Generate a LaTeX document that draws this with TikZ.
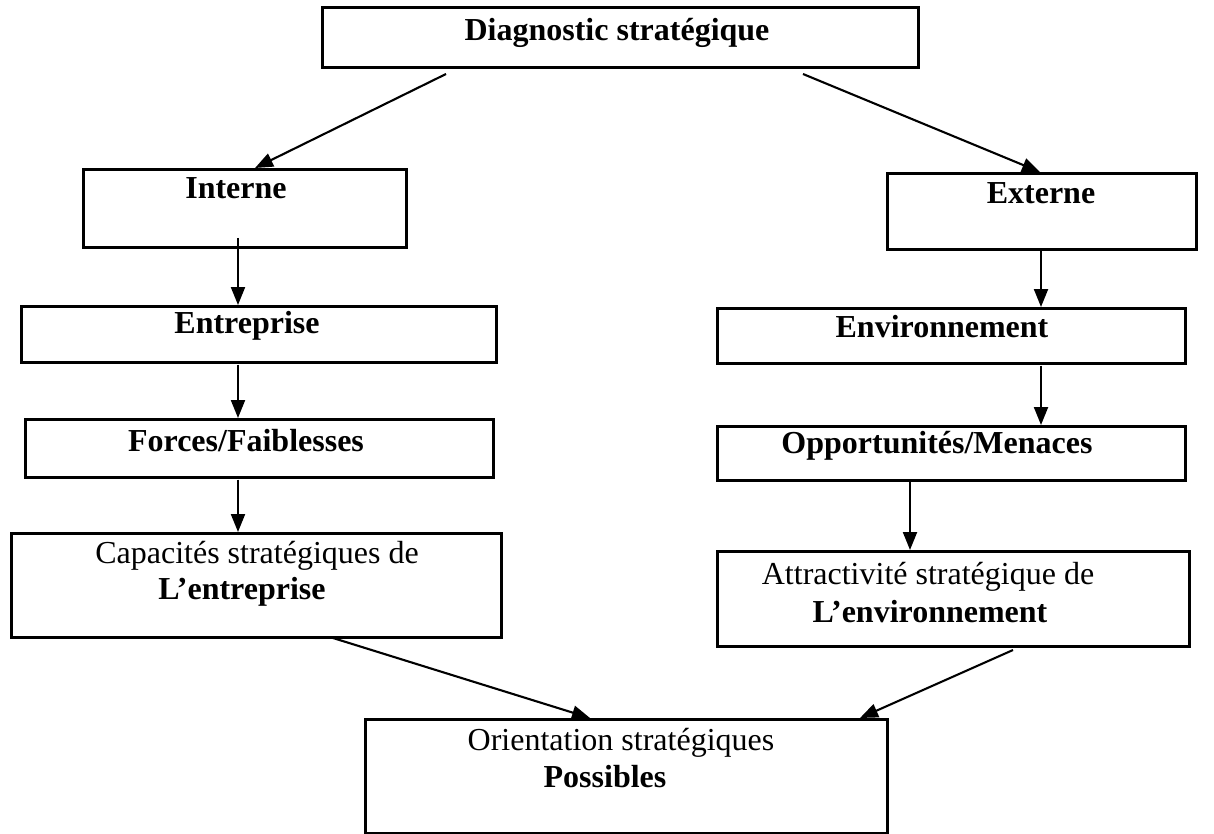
\documentclass[tikz,border=0pt]{standalone}
\usepackage{fontspec}
\setmainfont{Liberation Serif}
\usetikzlibrary{arrows.meta}
\begin{document}
\begin{tikzpicture}[x=1pt,y=-1pt,
  box/.style={draw, line width=2.6pt, rectangle, inner sep=0pt, anchor=north west},
  lbl/.style={inner sep=0pt, anchor=center, font=\fontsize{32}{37}\selectfont},
  blbl/.style={inner sep=0pt, anchor=center, font=\fontsize{32}{37}\selectfont\bfseries},
  arr/.style={line width=2.1pt, -{Triangle[length=18pt,width=14pt]}}]
\useasboundingbox (0,0) rectangle (1214,834);
\fill[white] (0,0) rectangle (1214,834);

% boxes
\node[box, minimum width=596pt, minimum height=60pt]  (diag)  at (321,6)   {};
\node[box, minimum width=323pt, minimum height=78pt]  (int)   at (82,168)  {};
\node[box, minimum width=309pt, minimum height=76pt]  (ext)   at (886,172) {};
\node[box, minimum width=475pt, minimum height=56pt]  (entr)  at (20,305)  {};
\node[box, minimum width=468pt, minimum height=55pt]  (envi)  at (716,307) {};
\node[box, minimum width=468pt, minimum height=58pt]  (forc)  at (24,418)  {};
\node[box, minimum width=468pt, minimum height=54pt]  (oppo)  at (716,425) {};
\node[box, minimum width=490pt, minimum height=104pt] (capa)  at (10,532)  {};
\node[box, minimum width=472pt, minimum height=95pt]  (attr)  at (716,550) {};
\node[box, minimum width=522pt, minimum height=114pt] (orie)  at (364,718) {};

% labels
\node[blbl] (tdiag) at (617,33)  {Diagnostic stratégique};
\node[blbl] (tint)  at (236,188) {Interne};
\node[blbl] (text)  at (1041,193) {Externe};
\node[blbl] (tentr) at (247,326) {Entreprise};
\node[blbl] (tenvi) at (942,327) {Environnement};
\node[blbl] (tforc) at (246,441) {Forces/Faiblesses};
\node[blbl] (toppo) at (937,446) {Opportunités/Menaces};
\node[lbl]  (tcapa) at (257,556) {Capacités stratégiques de};
\node[blbl] (tcapb) at (242,592) {L’entreprise};
\node[lbl]  (tattr) at (928,577) {Attractivité stratégique de};
\node[blbl] (tatts) at (930,612) {L’environnement};
\node[lbl]  (torie) at (621,743) {Orientation stratégiques};
\node[blbl] (tposs) at (605,777) {Possibles};

% connector end points
\coordinate (d1) at (446,74);
\coordinate (d2) at (803,74);
\coordinate (i1) at (255,168);
\coordinate (e1) at (1040,172);
\coordinate (lc) at (238,238);
\coordinate (rc) at (1041,248);
\coordinate (oc) at (910,480);
\coordinate (c1) at (333,638);
\coordinate (o1) at (590,718);
\coordinate (a1) at (1013,650);
\coordinate (o2) at (860,718);

% connectors
\draw[arr] (d1) -- (i1);
\draw[arr] (d2) -- (e1);
\draw[arr] (lc) -- (lc |- entr.north);
\draw[arr] (rc) -- (rc |- envi.north);
\draw[arr] (lc |- entr.south) ++(0,1) -- (lc |- forc.north);
\draw[arr] (rc |- envi.south) ++(0,1) -- (rc |- oppo.north);
\draw[arr] (lc |- forc.south) ++(0,1) -- (lc |- capa.north);
\draw[arr] (oc) -- (oc |- attr.north);
\draw[arr] (c1) -- (o1);
\draw[arr] (a1) -- (o2);
\end{tikzpicture}
\end{document}
